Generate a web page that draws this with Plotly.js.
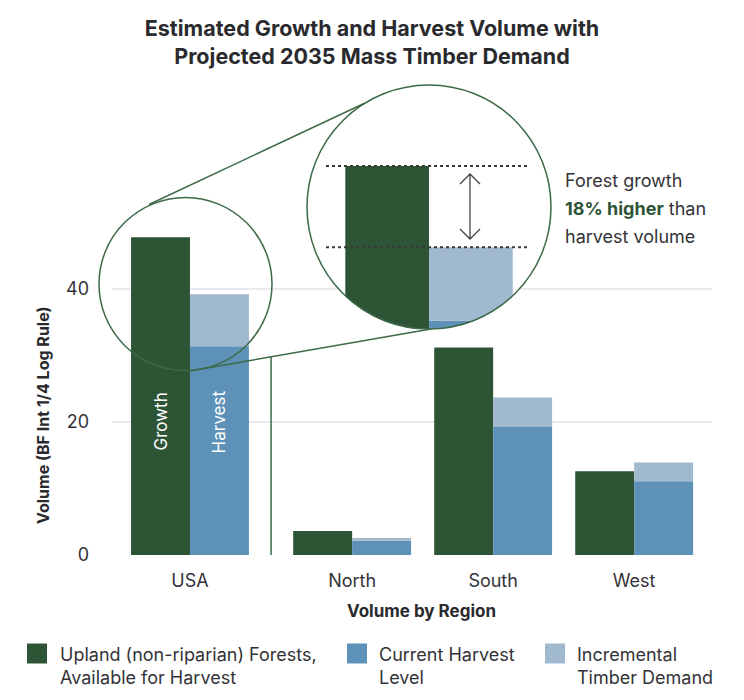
<!DOCTYPE html>
<html><head><meta charset="utf-8">
<script src="https://cdn.plot.ly/plotly-3.0.1.min.js"></script>
<style>html,body{margin:0;padding:0;background:#fff}</style>
</head><body>
<div id="chart" style="width:744px;height:700px"></div>
<script>
// ---------------- data ----------------
const regions = ["USA", "North", "South", "West"];
const growth = [47.8, 3.6, 31.2, 12.6];
const currentHarvest = [31.4, 2.15, 19.25, 11.1];
const incrementalDemand = [7.8, 0.4, 4.45, 2.8];
const yTickVals = [0, 20, 40];
const seriesNames = ["Upland (non-riparian) Forests,<br>Available for Harvest", "Current Harvest<br>Level", "Incremental<br>Timber Demand"];
const barLabels = ["Growth", "Harvest"];
const calloutLines = ["Forest growth", "<b>18% higher</b>", " than", "harvest volume"];

// ---------------- styling / layout ----------------
const C_GREEN = "#2e5436", C_BLUE = "#5d91b8", C_LBLUE = "#a0b9cf";
const C_TEXT = "#333338", C_TITLE = "#2a2a2e", C_GRID = "#e9e9ef", C_RING = "#3d6a48";
const FONT = "Inter, Lato, sans-serif";
const L = 112, R = 712, T = 80, B = 555;          // plot area in px
const pxPerY = 6.65;
const xRange = [-0.553, 3.702];
const pxPerX = (R - L) / (xRange[1] - xRange[0]);
const yRange = [0, (B - T) / pxPerY];
const pos = regions.map((r, i) => i === 0 ? 0 : i + 0.15);
const BW = 0.418;
const px = x => (x - L) / (R - L);
const py = y => (B - y) / (B - T);

// zoom inset
const MAG = 1.42, CX = 429, CY = 207, CR = 122, GROWTH_TOP_PX = 166;
const inX = [CX - CR, CX + CR], inY = [CY - CR, CY + CR];
const kx = pxPerX * MAG, ky = pxPerY * MAG;
const x2Range = [pos[0] - CR / kx, pos[0] + CR / kx];
const y2Range = [growth[0] - (inY[1] - GROWTH_TOP_PX) / ky, growth[0] + (GROWTH_TOP_PX - inY[0]) / ky];
const totalHarvest = currentHarvest.map((v, i) => v + incrementalDemand[i]);

function bars(xa, ya) {
  return [
    {type: "bar", x: pos, y: growth, width: BW, offset: -BW, marker: {color: C_GREEN, line: {width: 0}},
     xaxis: xa, yaxis: ya, name: seriesNames[0], showlegend: false, hoverinfo: "skip"},
    {type: "bar", x: pos, y: currentHarvest, width: BW, offset: 0, marker: {color: C_BLUE, line: {width: 0}},
     xaxis: xa, yaxis: ya, name: seriesNames[1], showlegend: false, hoverinfo: "skip"},
    {type: "bar", x: pos, y: incrementalDemand, base: currentHarvest, width: BW, offset: 0,
     marker: {color: C_LBLUE, line: {width: 0}},
     xaxis: xa, yaxis: ya, name: seriesNames[2], showlegend: false, hoverinfo: "skip"}
  ];
}
const data = bars("x", "y").concat(bars("x2", "y2"));

// circle polygon path (paper coords)
function circlePath(cx, cy, r, n) {
  let s = "";
  for (let i = 0; i <= n; i++) {
    const a = 2 * Math.PI * i / n;
    s += (i === 0 ? "M" : "L") + px(cx + r * Math.cos(a)).toFixed(5) + "," + py(cy + r * Math.sin(a)).toFixed(5);
  }
  return s + "Z";
}
const sq = [inX[0] - 2, inY[0] - 2, inX[1] + 2, inY[1] + 2];
const maskPath = "M" + px(sq[0]) + "," + py(sq[1]) + "L" + px(sq[2]) + "," + py(sq[1]) + "L" + px(sq[2]) + "," + py(sq[3]) +
  "L" + px(sq[0]) + "," + py(sq[3]) + "Z" + circlePath(CX, CY, CR + 0.5, 120);

// gridline at 40 outside the circle
const g40 = B - 40 * pxPerY;
const dxg = Math.sqrt(Math.max(0, CR * CR - (g40 - CY) * (g40 - CY)));

const shapes = [
  {type: "path", xref: "paper", yref: "paper", path: maskPath, fillcolor: "#ffffff", fillrule: "evenodd", line: {width: 0}, layer: "above"},
  {type: "line", xref: "paper", yref: "y", x0: px(sq[0]), x1: px(CX - dxg), y0: 40, y1: 40, line: {color: C_GRID, width: 2}, layer: "above"},
  {type: "line", xref: "paper", yref: "y", x0: px(CX + dxg), x1: Math.min(1, px(sq[2])), y0: 40, y1: 40, line: {color: C_GRID, width: 2}, layer: "above"},
  // big circle
  {type: "circle", xref: "paper", yref: "paper", x0: px(CX - CR), x1: px(CX + CR), y0: py(CY + CR), y1: py(CY - CR), line: {color: C_RING, width: 1.5}, layer: "above"},
  // small circle
  {type: "circle", xref: "paper", yref: "paper", x0: px(185.5 - 86.5), x1: px(185.5 + 86.5), y0: py(284 + 86.5), y1: py(284 - 86.5), line: {color: C_RING, width: 1.5}, layer: "above"},
  // connecting lines
  {type: "line", xref: "paper", yref: "paper", x0: px(149), y0: py(204.5), x1: px(364), y1: py(103.5), line: {color: C_RING, width: 1.5}, layer: "above"},
  {type: "line", xref: "paper", yref: "paper", x0: px(190), y0: py(371), x1: px(431), y1: py(329), line: {color: C_RING, width: 1.5}, layer: "above"},
  // separator
  {type: "line", xref: "x", yref: "paper", x0: (pos[0] + pos[1]) / 2, x1: (pos[0] + pos[1]) / 2, y0: py(B), y1: py(357), line: {color: C_RING, width: 1.5}, layer: "above"},
  // dotted reference lines in the inset
  {type: "line", xref: "paper", yref: "y2", x0: px(326), x1: px(530), y0: growth[0], y1: growth[0], line: {color: "#3a3a3a", width: 2, dash: "dot"}, layer: "above"},
  {type: "line", xref: "paper", yref: "y2", x0: px(326), x1: px(530), y0: totalHarvest[0], y1: totalHarvest[0], line: {color: "#3a3a3a", width: 2, dash: "dot"}, layer: "above"},
  // double arrow
  {type: "path", xref: "paper", yref: "paper",
   path: "M" + px(470) + "," + py(174) + "L" + px(470) + "," + py(239) +
         "M" + px(460) + "," + py(184) + "L" + px(470) + "," + py(174) + "L" + px(480) + "," + py(184) +
         "M" + px(460) + "," + py(229) + "L" + px(470) + "," + py(239) + "L" + px(480) + "," + py(229),
   line: {color: "#444", width: 1.3}, layer: "above"}
];

// legend (custom, to get large squares)
const legendColors = [C_GREEN, C_BLUE, C_LBLUE];
const legendX = [27, 347, 545];
const legendTextX = [57.5, 377, 575];
legendColors.forEach((c, i) => {
  shapes.push({type: "rect", xref: "paper", yref: "paper", x0: px(legendX[i]), x1: px(legendX[i] + 20),
    y0: py(663.5), y1: py(643.5), fillcolor: c, line: {width: 0}, layer: "above"});
});

const annotations = [
  {xref: "paper", yref: "paper", x: px(43), y: py(415), text: "Volume (BF Int 1/4 Log Rule)", textangle: -90, showarrow: false,
   font: {family: FONT, size: 16, color: C_TITLE, weight: 700}, xanchor: "center", yanchor: "middle"},
  {xref: "paper", yref: "paper", x: px(421.5), y: py(610.5), text: "Volume by Region", showarrow: false,
   font: {family: FONT, size: 17, color: C_TITLE, weight: 700}, xanchor: "center", yanchor: "middle"},
  {xref: "x", yref: "paper", x: pos[0] - BW / 2, y: py(422), text: barLabels[0], textangle: -90, showarrow: false,
   font: {family: FONT, size: 17, color: "#ffffff"}, xanchor: "center", yanchor: "middle"},
  {xref: "x", yref: "paper", x: pos[0] + BW / 2, y: py(422), text: barLabels[1], textangle: -90, showarrow: false,
   font: {family: FONT, size: 17, color: "#ffffff"}, xanchor: "center", yanchor: "middle"},
  {xref: "paper", yref: "paper", x: px(563), y: py(180), text: calloutLines[0], showarrow: false, xanchor: "left", yanchor: "middle",
   font: {family: FONT, size: 18, color: C_TEXT}},
  {xref: "paper", yref: "paper", x: px(563), y: py(208), text: '<span style="color:' + C_GREEN + '">' + calloutLines[1] + '</span>' + calloutLines[2],
   showarrow: false, xanchor: "left", yanchor: "middle", font: {family: FONT, size: 18, color: C_TEXT}},
  {xref: "paper", yref: "paper", x: px(563), y: py(236), text: calloutLines[3], showarrow: false, xanchor: "left", yanchor: "middle",
   font: {family: FONT, size: 18, color: C_TEXT}}
];
seriesNames.forEach((n, i) => {
  n.split("<br>").forEach((line, j) => {
    annotations.push({xref: "paper", yref: "paper", x: px(legendTextX[i]), y: py(654 + 23.7 * j), text: line, showarrow: false,
      xanchor: "left", yanchor: "middle", align: "left", font: {family: FONT, size: 18, color: C_TEXT}});
  });
});

const layout = {
  width: 744, height: 700,
  margin: {l: L, r: 744 - R, t: T, b: 700 - B},
  paper_bgcolor: "#ffffff", plot_bgcolor: "#ffffff",
  font: {family: FONT, color: C_TEXT},
  title: {text: "Estimated Growth and Harvest Volume with<br>Projected 2035 Mass Timber Demand",
    font: {family: FONT, size: 21.5, color: C_TITLE, weight: 700}, x: 0.5, xanchor: "center",
    yref: "container", y: 1 - 36 / 700, yanchor: "middle"},
  barmode: "overlay",
  showlegend: false,
  xaxis: {range: xRange, tickvals: pos, ticktext: regions, showgrid: false, zeroline: false, showline: false,
    ticks: "", tickfont: {family: FONT, size: 18, color: C_TEXT}, ticklabelstandoff: 13, fixedrange: true},
  yaxis: {range: yRange, tickvals: yTickVals, showgrid: true, gridcolor: C_GRID, gridwidth: 2, zeroline: false,
    showline: false, ticks: "", tickfont: {family: FONT, size: 18, color: C_TEXT}, ticklabelstandoff: 22, fixedrange: true},
  xaxis2: {domain: [px(inX[0]), px(inX[1])], range: x2Range, anchor: "y2", visible: false, showgrid: false, zeroline: false, fixedrange: true},
  yaxis2: {domain: [py(inY[1]), py(inY[0])], range: y2Range, anchor: "x2", visible: false, showgrid: false, zeroline: false, fixedrange: true},
  shapes: shapes,
  annotations: annotations
};

Plotly.newPlot("chart", data, layout, {staticPlot: true, displayModeBar: false});
</script>
</body></html>
